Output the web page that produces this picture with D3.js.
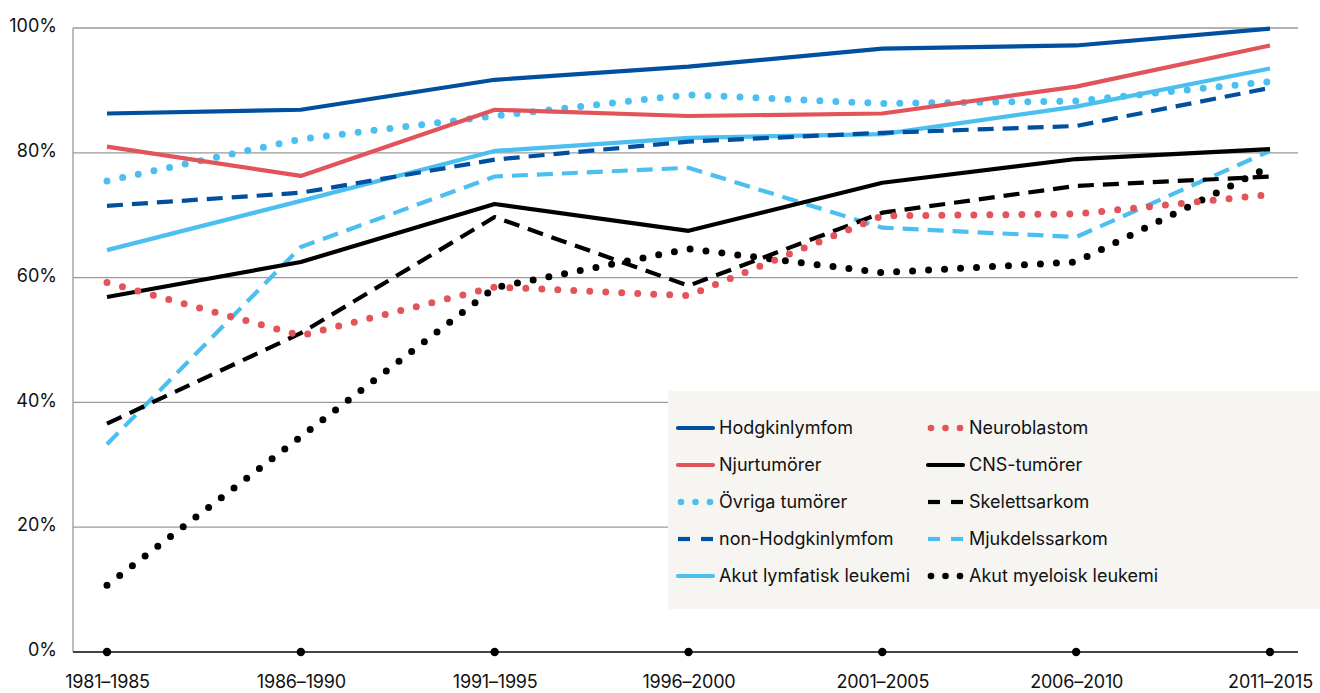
<!DOCTYPE html>
<html><head><meta charset="utf-8">
<script src="https://cdn.jsdelivr.net/npm/d3@7"></script>
<style>body{margin:0;background:#fff}svg{display:block}text{font-family:Inter,"Noto Sans",sans-serif}</style>
</head><body><svg id="c" width="1320" height="693"></svg>
<script>
const periods = ["1981–1985","1986–1990","1991–1995","1996–2000","2001–2005","2006–2010","2011–2015"];
const yTicks = [0,20,40,60,80,100];
const hodgkin = [86.3,86.9,91.7,93.8,96.7,97.2,99.9];
const njur = [81.0,76.3,86.9,85.9,86.3,90.6,97.2];
const ovriga = [75.5,82.2,85.9,89.3,87.9,88.3,91.4];
const nonHodgkin = [71.5,73.6,78.9,81.8,83.2,84.3,90.4];
const all = [64.4,72.3,80.3,82.4,83.0,87.4,93.5];
const neuro = [59.2,50.7,58.5,57.1,69.9,70.2,73.3];
const cns = [56.9,62.5,71.8,67.5,75.2,79.0,80.6];
const skelett = [36.6,51.1,69.7,58.7,70.4,74.7,76.2];
const mjuk = [33.3,64.9,76.2,77.6,68.0,66.5,80.3];
const aml = [10.7,34.5,58.4,64.6,60.8,62.5,77.8];

const C = {dblue:"#00509f", red:"#e3535a", lblue:"#4bbfef", black:"#000"};
const series = [
  {name:"Hodgkinlymfom", v:hodgkin, c:C.dblue, s:"solid"},
  {name:"Njurtumörer", v:njur, c:C.red, s:"solid"},
  {name:"Övriga tumörer", v:ovriga, c:C.lblue, s:"dot"},
  {name:"non-Hodgkinlymfom", v:nonHodgkin, c:C.dblue, s:"dash"},
  {name:"Akut lymfatisk leukemi", v:all, c:C.lblue, s:"solid"},
  {name:"Neuroblastom", v:neuro, c:C.red, s:"dot"},
  {name:"CNS-tumörer", v:cns, c:C.black, s:"solid"},
  {name:"Skelettsarkom", v:skelett, c:C.black, s:"dash"},
  {name:"Mjukdelssarkom", v:mjuk, c:C.lblue, s:"dash"},
  {name:"Akut myeloisk leukemi", v:aml, c:C.black, s:"dot"}
];

const svg = d3.select("#c");
const x = d3.scalePoint().domain(periods).range([107,1270]);
const y = d3.scaleLinear().domain([0,100]).range([652,28]);
const gridRight = 1298, axisX = 73;

svg.append("g").selectAll("line").data(yTicks.filter(d=>d>0)).join("line")
  .attr("x1",axisX).attr("x2",gridRight).attr("y1",d=>y(d)).attr("y2",d=>y(d))
  .attr("stroke","#9a9a9a").attr("stroke-width",1.3);
svg.append("line").attr("x1",axisX).attr("x2",axisX).attr("y1",y(100)).attr("y2",y(0))
  .attr("stroke","#9a9a9a").attr("stroke-width",1.3);
const yAxis = d3.axisLeft(y).tickValues(yTicks).tickFormat(d=>d+"%").tickSize(0).tickPadding(16);
const ya = svg.append("g").attr("transform",`translate(${axisX},0)`).call(yAxis);
ya.select(".domain").remove();
ya.selectAll("text").attr("font-size",18).attr("fill","#111").attr("font-family","Inter,sans-serif").attr("dy","0.2em");

svg.append("rect").attr("x",668).attr("y",391).attr("width",652).attr("height",218).attr("fill","#f6f5f1");

svg.append("line").attr("x1",axisX).attr("x2",gridRight).attr("y1",y(0)).attr("y2",y(0))
  .attr("stroke","#444").attr("stroke-width",2);
svg.append("g").selectAll("circle").data(periods).join("circle")
  .attr("cx",d=>x(d)).attr("cy",y(0)).attr("r",4.2).attr("fill","#000");
const xAxis = d3.axisBottom(x).tickSize(0).tickPadding(0);
const xa = svg.append("g").attr("transform",`translate(0,${y(0)})`).call(xAxis);
xa.select(".domain").remove();
xa.selectAll("text").attr("font-size",18).attr("fill","#111").attr("font-family","Inter,sans-serif")
  .attr("y",36).attr("dy",0).attr("letter-spacing","-0.2");

function styleLine(sel, s){
  if(s==="solid") sel.attr("stroke-width",4.2).attr("stroke-linecap","butt");
  else if(s==="dash") sel.attr("stroke-width",4.2).attr("stroke-dasharray","16 9").attr("stroke-linecap","butt");
  else sel.attr("stroke-width",7).attr("stroke-dasharray","0 16").attr("stroke-linecap","round");
  return sel;
}
const line = d3.line().x((d,i)=>x(periods[i])).y(d=>y(d));
[...series].reverse().forEach(s=>{
  const p = svg.append("path").datum(s.v).attr("d",line).attr("fill","none")
    .attr("stroke",s.c).attr("stroke-linejoin","round");
  styleLine(p, s.s);
});

const lg = svg.append("g");
series.forEach((s,i)=>{
  const col = i<5?0:1, row = i%5;
  const lx = col===0?678:928, ly = 428 + row*37;
  const g = lg.append("g").attr("transform",`translate(${lx},${ly})`);
  if(s.s==="solid"){
    g.append("line").attr("x1",0).attr("x2",35).attr("y1",0).attr("y2",0).attr("stroke",s.c).attr("stroke-width",4.2).attr("stroke-linecap","round");
  } else if(s.s==="dash"){
    [[0,12],[23,35]].forEach(a=>g.append("line").attr("x1",a[0]).attr("x2",a[1]).attr("y1",0).attr("y2",0).attr("stroke",s.c).attr("stroke-width",4.2));
  } else {
    [3,17.5,32].forEach(cx=>g.append("circle").attr("cx",cx).attr("cy",0).attr("r",3.3).attr("fill",s.c));
  }
  g.append("text").attr("x",41).attr("y",0).attr("dy","0.35em").attr("font-size",18).attr("fill","#111").text(s.name);
});
</script></body></html>
